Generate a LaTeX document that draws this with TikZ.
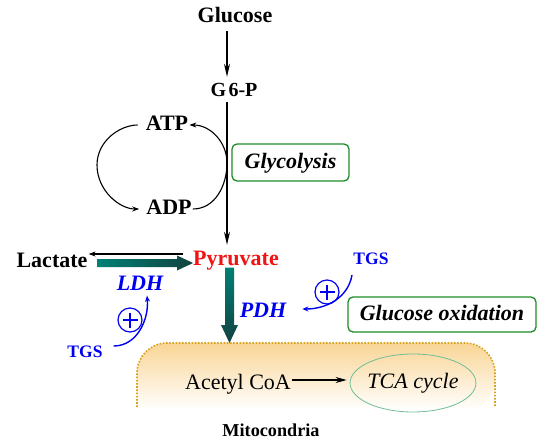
\documentclass[tikz,border=0pt]{standalone}
\usepackage{fontspec}
\setmainfont{Liberation Serif}
\usetikzlibrary{positioning,arrows.meta,calc,shapes.geometric}
\definecolor{PyrRed}{RGB}{240,20,20}
\definecolor{EnzBlue}{RGB}{0,0,240}
\definecolor{BoxGreen}{RGB}{30,140,40}
\definecolor{FluxTop}{RGB}{0,128,118}
\definecolor{FluxEnd}{RGB}{18,66,64}
\definecolor{MitoFill}{RGB}{249,213,150}
\definecolor{MitoEdge}{RGB}{215,160,30}
\definecolor{TcaRing}{RGB}{110,190,150}

\begin{document}
\begin{tikzpicture}[x=1pt,y=-1pt,
lbl/.style={font=\fontsize{22}{24}\selectfont\bfseries,inner sep=1pt,text height=15pt,text depth=4pt},
enz/.style={lbl,font=\fontsize{22}{24}\selectfont\bfseries\itshape,text=EnzBlue},
tgs/.style={font=\fontsize{17.5}{19}\selectfont\bfseries,text=EnzBlue,inner sep=1pt},
plus/.style={circle,draw=EnzBlue,line width=1.2pt,minimum size=24pt,inner sep=0pt,
  path picture={\draw[EnzBlue,line width=1.2pt] ($(path picture bounding box.center)+(-7.5,0)$) -- ++(15,0) ($(path picture bounding box.center)+(0,-7.5)$) -- ++(0,15);}},
tag/.style={rectangle,rounded corners=5pt,draw=BoxGreen,line width=1.3pt,font=\fontsize{22}{24}\selectfont\bfseries\itshape,text height=15pt,text depth=4pt},
arr/.style={-{Stealth[length=7pt,width=5pt]},line width=1.1pt},
longarr/.style={-{Stealth[length=13pt,width=6pt]},line width=1.4pt},
act/.style={-{Stealth[length=6pt,width=5pt]},line width=1.4pt,draw=EnzBlue}
]
\useasboundingbox (0,0) rectangle (550,445);
\coordinate (axis) at (227,0);
\node[lbl] (glc) at (235,17) {Glucose};
\node[lbl,font=\fontsize{20}{22}\selectfont\bfseries] (g6p) at (234,91) {G\hspace{.12em}6-P};
\node[lbl] (atp) at (167,125) {ATP};
\node[lbl] (adp) at (169,209) {ADP};
\node[tag,minimum width=117pt,minimum height=37pt] (glyc) at (290.5,162.5) {Glycolysis};
\node[lbl] (lac) at (52,262) {Lactate};
\node[lbl,text=PyrRed] (pyr) at (236,260) {Pyruvate};
\node[enz] (ldh) at (140,285) {LDH};
\node[enz] (pdh) at (263,312) {PDH};
\node[tgs] (tgsl) at (85,352) {TGS};
\node[tgs] (tgsr) at (371,259) {TGS};
\node[plus] (plusl) at (130,320) {};
\node[plus] (plusr) at (327,292) {};
\node[tag,minimum width=188pt,minimum height=35pt] (gox) at (442,314.5) {Glucose oxidation};

\shade[top color=MitoFill,middle color=MitoFill!45!white,bottom color=white] (137,410) [rounded corners=30pt] -- (137,343) -- (495,343) -- (495,410) [sharp corners] -- cycle;
\draw[MitoEdge,line width=1.6pt,dash pattern=on 1.6pt off 1.6pt] (137,407) [rounded corners=30pt] -- (137,343) -- (495,343) -- (495,407);
\coordinate (mtop) at (229.5,343);
\node[lbl,font=\fontsize{22}{24}\selectfont] (acoa) at (238,384) {Acetyl CoA};
\node[ellipse,draw=TcaRing,line width=0.8pt,inner xsep=-1pt,inner ysep=2pt,minimum height=58pt,font=\fontsize{22}{24}\selectfont\itshape,text height=15pt,text depth=4pt] (tca) at (413,383) {TCA cycle};
\node[font=\fontsize{18.2}{20}\selectfont\bfseries] (mito) at (271,430) {Mitocondria};

\draw[longarr,shorten <=3.5pt,shorten >=3.5pt] (glc.south -| axis) -- (g6p.north -| axis);
\draw[longarr,shorten >=4.5pt] (g6p.south -| axis) -- (pyr.north -| axis);
\coordinate (touch) at (227,163);
\coordinate (lft) at (97,165);
\draw[arr] (adp.east) to[out=0,in=-90] (touch) to[out=90,in=0] (atp.east);
\draw[arr,shorten <=7pt,shorten >=6pt] (atp.west) to[out=180,in=90] (lft) to[out=-90,in=180] (adp.west);

\coordinate (ht) at ($(pyr.west)+(1,3)$);
\coordinate (hs) at ($(lac.east |- ht)+(9,0)$);
\shade[left color=FluxTop,right color=FluxEnd] ($(hs)+(0,-4)$) -- ($(ht)+(-16,-4)$) -- ($(ht)+(-16,-7.5)$) -- (ht) -- ($(ht)+(-16,7.5)$) -- ($(ht)+(-16,4)$) -- ($(hs)+(0,4)$) -- cycle;
\draw[arr] ($(pyr.west)+(-9,-6)$) coordinate (lt) -- (lt -| lac.east);

\coordinate (vs) at ($(mtop |- pyr.south)+(0,-3)$);
\shade[top color=FluxTop,bottom color=FluxEnd] ($(vs)+(-4.5,0)$) -- ($(mtop)+(-4.5,-18)$) -- ($(mtop)+(-8.5,-18)$) -- (mtop) -- ($(mtop)+(8.5,-18)$) -- ($(mtop)+(4.5,-18)$) -- ($(vs)+(4.5,0)$) -- cycle;

\draw[act] ($(tgsl.east)+(10,-6)$) to[out=0,in=-85] ($(ldh.south)+(7,0)$);
\draw[act] ($(tgsr.south)+(-19,9)$) to[out=-100,in=0] ($(pdh.east)+(15,-3)$);

\draw[-{Stealth[length=11pt,width=6pt]},line width=1.1pt,shorten >=3pt] ($(acoa.east)+(0,-4)$) coordinate (ae) -- (ae -| tca.west);
\end{tikzpicture}
\end{document}
